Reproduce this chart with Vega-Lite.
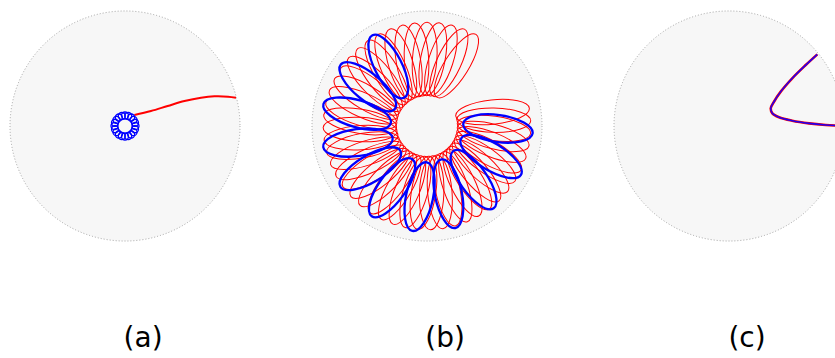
{
"$schema": "https://vega.github.io/schema/vega-lite/v6.json",
"padding": {"left": 8, "top": 0, "right": 0, "bottom": 0},
"spacing": 72,
"bounds": "flush",
"config": {"view": {"stroke": null}},
"hconcat": [
{
"width": 230, "height": 358,
"encoding": {
"x": {"field": "x", "type": "quantitative", "scale": {"domain": [-1, 1], "nice": false, "zero": false}, "axis": null},
"y": {"field": "y", "type": "quantitative", "scale": {"domain": [-2.0174, 1.0957], "nice": false, "zero": false}, "axis": null}
},
"layer": [
{"data": {"values": [{"x": 0, "y": 0}]}, "mark": {"type": "point", "shape": "circle", "size": 52900, "filled": true, "fill": "#f7f7f7", "stroke": "#999999", "strokeWidth": 0.9, "strokeDash": [1, 2], "opacity": 1}},
{"data": {"values": [
{"i": 0, "x": 0.081, "y": 0.096},
{"i": 1, "x": 0.226, "y": 0.130},
{"i": 2, "x": 0.371, "y": 0.174},
{"i": 3, "x": 0.517, "y": 0.217},
{"i": 4, "x": 0.661, "y": 0.246},
{"i": 5, "x": 0.777, "y": 0.258},
{"i": 6, "x": 0.896, "y": 0.255},
{"i": 7, "x": 0.965, "y": 0.246}
]}, "mark": {"type": "line", "color": "#ff0000", "strokeWidth": 2, "interpolate": "catmull-rom"}, "encoding": {"order": {"field": "i"}}},
{"data": {"values": [
{"x": 0.0913, "y": 0}, {"x": 0.0868, "y": 0.0282}, {"x": 0.0739, "y": 0.0537}, {"x": 0.0537, "y": 0.0739}, {"x": 0.0282, "y": 0.0868},
{"x": 0, "y": 0.0913}, {"x": -0.0282, "y": 0.0868}, {"x": -0.0537, "y": 0.0739}, {"x": -0.0739, "y": 0.0537}, {"x": -0.0868, "y": 0.0282},
{"x": -0.0913, "y": 0}, {"x": -0.0868, "y": -0.0282}, {"x": -0.0739, "y": -0.0537}, {"x": -0.0537, "y": -0.0739}, {"x": -0.0282, "y": -0.0868},
{"x": 0, "y": -0.0913}, {"x": 0.0282, "y": -0.0868}, {"x": 0.0537, "y": -0.0739}, {"x": 0.0739, "y": -0.0537}, {"x": 0.0868, "y": -0.0282}
]}, "mark": {"type": "point", "shape": "circle", "size": 49, "filled": false, "stroke": "#0000ff", "strokeWidth": 1.3, "opacity": 1}},
{"data": {"values": [{"x": 0.157, "y": -1.92, "label": "(a)"}]}, "mark": {"type": "text", "font": "DejaVu Sans", "fontSize": 28, "baseline": "alphabetic", "align": "center", "color": "#000000"}, "encoding": {"text": {"field": "label"}}}
]
},
{
"width": 230, "height": 358,
"encoding": {
"x": {"field": "x", "type": "quantitative", "scale": {"domain": [-1, 1], "nice": false, "zero": false}, "axis": null},
"y": {"field": "y", "type": "quantitative", "scale": {"domain": [-2.0174, 1.0957], "nice": false, "zero": false}, "axis": null}
},
"layer": [
{"data": {"values": [{"x": 0, "y": 0}]}, "mark": {"type": "point", "shape": "circle", "size": 52900, "filled": true, "fill": "#f7f7f7", "stroke": "#999999", "strokeWidth": 0.9, "strokeDash": [1, 2], "opacity": 1}},
{"data": {"values": [
{"x": 0.2554, "y": 0.5236, "angle": 302},
{"x": 0.1897, "y": 0.5508, "angle": 295},
{"x": 0.1211, "y": 0.5698, "angle": 288},
{"x": 0.0508, "y": 0.5804, "angle": 281},
{"x": -0.0203, "y": 0.5822, "angle": 274},
{"x": -0.0911, "y": 0.5754, "angle": 267},
{"x": -0.1606, "y": 0.5601, "angle": 260},
{"x": -0.2276, "y": 0.5363, "angle": 253},
{"x": -0.2913, "y": 0.5045, "angle": 246},
{"x": -0.3506, "y": 0.4653, "angle": 239},
{"x": -0.4047, "y": 0.4191, "angle": 232},
{"x": -0.4527, "y": 0.3666, "angle": 225},
{"x": -0.4940, "y": 0.3087, "angle": 218},
{"x": -0.5280, "y": 0.2462, "angle": 211},
{"x": -0.5541, "y": 0.1800, "angle": 204},
{"x": -0.5719, "y": 0.1112, "angle": 197},
{"x": -0.5812, "y": 0.0407, "angle": 190},
{"x": -0.5818, "y": -0.0305, "angle": 183},
{"x": -0.5737, "y": -0.1011, "angle": 176},
{"x": -0.5571, "y": -0.1704, "angle": 169},
{"x": -0.5322, "y": -0.2369, "angle": 162},
{"x": -0.4994, "y": -0.3000, "angle": 155},
{"x": -0.4591, "y": -0.3587, "angle": 148},
{"x": -0.4120, "y": -0.4120, "angle": 141},
{"x": -0.3587, "y": -0.4591, "angle": 134},
{"x": -0.3000, "y": -0.4994, "angle": 127},
{"x": -0.2369, "y": -0.5322, "angle": 120},
{"x": -0.1704, "y": -0.5571, "angle": 113},
{"x": -0.1011, "y": -0.5737, "angle": 106},
{"x": -0.0305, "y": -0.5818, "angle": 99},
{"x": 0.0407, "y": -0.5812, "angle": 92},
{"x": 0.1112, "y": -0.5719, "angle": 85},
{"x": 0.1800, "y": -0.5541, "angle": 78},
{"x": 0.2462, "y": -0.5280, "angle": 71},
{"x": 0.3087, "y": -0.4940, "angle": 64},
{"x": 0.3666, "y": -0.4527, "angle": 57},
{"x": 0.4191, "y": -0.4047, "angle": 50},
{"x": 0.4653, "y": -0.3506, "angle": 43},
{"x": 0.5045, "y": -0.2913, "angle": 36},
{"x": 0.5363, "y": -0.2276, "angle": 29},
{"x": 0.5601, "y": -0.1606, "angle": 22},
{"x": 0.5754, "y": -0.0911, "angle": 15},
{"x": 0.5822, "y": -0.0203, "angle": 8},
{"x": 0.5804, "y": 0.0508, "angle": 1},
{"x": 0.5698, "y": 0.1211, "angle": 354}
]}, "mark": {"type": "point", "shape": "M -1 0 C -1 -0.182 -0.552 -0.33 0 -0.33 C 0.552 -0.33 1 -0.182 1 0 C 1 0.182 0.552 0.33 0 0.33 C -0.552 0.33 -1 0.182 -1 0 Z", "size": 5476, "filled": false, "stroke": "#ff0000", "strokeWidth": 1, "opacity": 1}, "encoding": {"angle": {"field": "angle", "type": "quantitative", "scale": null}}},
{"data": {"values": [
{"x": -0.3362, "y": 0.5178, "angle": 243},
{"x": -0.5149, "y": 0.3407, "angle": 219.5},
{"x": -0.6080, "y": 0.1072, "angle": 196},
{"x": -0.6004, "y": -0.1441, "angle": 172.5},
{"x": -0.4931, "y": -0.3715, "angle": 149},
{"x": -0.3040, "y": -0.5374, "angle": 125.5},
{"x": -0.0645, "y": -0.6140, "angle": 102},
{"x": 0.1857, "y": -0.5888, "angle": 78.5},
{"x": 0.4051, "y": -0.4660, "angle": 55},
{"x": 0.5573, "y": -0.2658, "angle": 31.5},
{"x": 0.6170, "y": -0.0215, "angle": 8}
]}, "mark": {"type": "point", "shape": "M -1 0 C -1 -0.213 -0.552 -0.386 0 -0.386 C 0.552 -0.386 1 -0.213 1 0 C 1 0.213 0.552 0.386 0 0.386 C -0.552 0.386 -1 0.213 -1 0 Z", "size": 4900, "filled": false, "stroke": "#0000ff", "strokeWidth": 2.3, "opacity": 1}, "encoding": {"angle": {"field": "angle", "type": "quantitative", "scale": null}}},
{"data": {"values": [{"x": 0.157, "y": -1.92, "label": "(b)"}]}, "mark": {"type": "text", "font": "DejaVu Sans", "fontSize": 28, "baseline": "alphabetic", "align": "center", "color": "#000000"}, "encoding": {"text": {"field": "label"}}}
]
},
{
"width": 230, "height": 358,
"encoding": {
"x": {"field": "x", "type": "quantitative", "scale": {"domain": [-1, 1], "nice": false, "zero": false}, "axis": null},
"y": {"field": "y", "type": "quantitative", "scale": {"domain": [-2.0174, 1.0957], "nice": false, "zero": false}, "axis": null}
},
"layer": [
{"data": {"values": [{"x": 0, "y": 0}]}, "mark": {"type": "point", "shape": "circle", "size": 52900, "filled": true, "fill": "#f7f7f7", "stroke": "#999999", "strokeWidth": 0.9, "strokeDash": [1, 2], "opacity": 1}},
{"data": {"name": "curveC", "values": [
{"i": 0, "x": 0.768, "y": 0.623},
{"i": 1, "x": 0.667, "y": 0.530},
{"i": 2, "x": 0.550, "y": 0.415},
{"i": 3, "x": 0.450, "y": 0.299},
{"i": 4, "x": 0.391, "y": 0.211},
{"i": 5, "x": 0.363, "y": 0.154},
{"i": 6, "x": 0.377, "y": 0.110},
{"i": 7, "x": 0.435, "y": 0.076},
{"i": 8, "x": 0.550, "y": 0.046},
{"i": 9, "x": 0.696, "y": 0.023},
{"i": 10, "x": 0.841, "y": 0.009},
{"i": 11, "x": 1.0, "y": 0.0}
]}, "mark": {"type": "line", "color": "#ff0000", "strokeWidth": 2.6, "interpolate": "catmull-rom"}, "encoding": {"order": {"field": "i"}}},
{"data": {"name": "curveC"}, "mark": {"type": "line", "color": "#2200ee", "strokeWidth": 1.6, "interpolate": "catmull-rom"}, "encoding": {"order": {"field": "i"}}},
{"data": {"values": [{"x": 0.157, "y": -1.92, "label": "(c)"}]}, "mark": {"type": "text", "font": "DejaVu Sans", "fontSize": 28, "baseline": "alphabetic", "align": "center", "color": "#000000"}, "encoding": {"text": {"field": "label"}}}
]
}
]
}
